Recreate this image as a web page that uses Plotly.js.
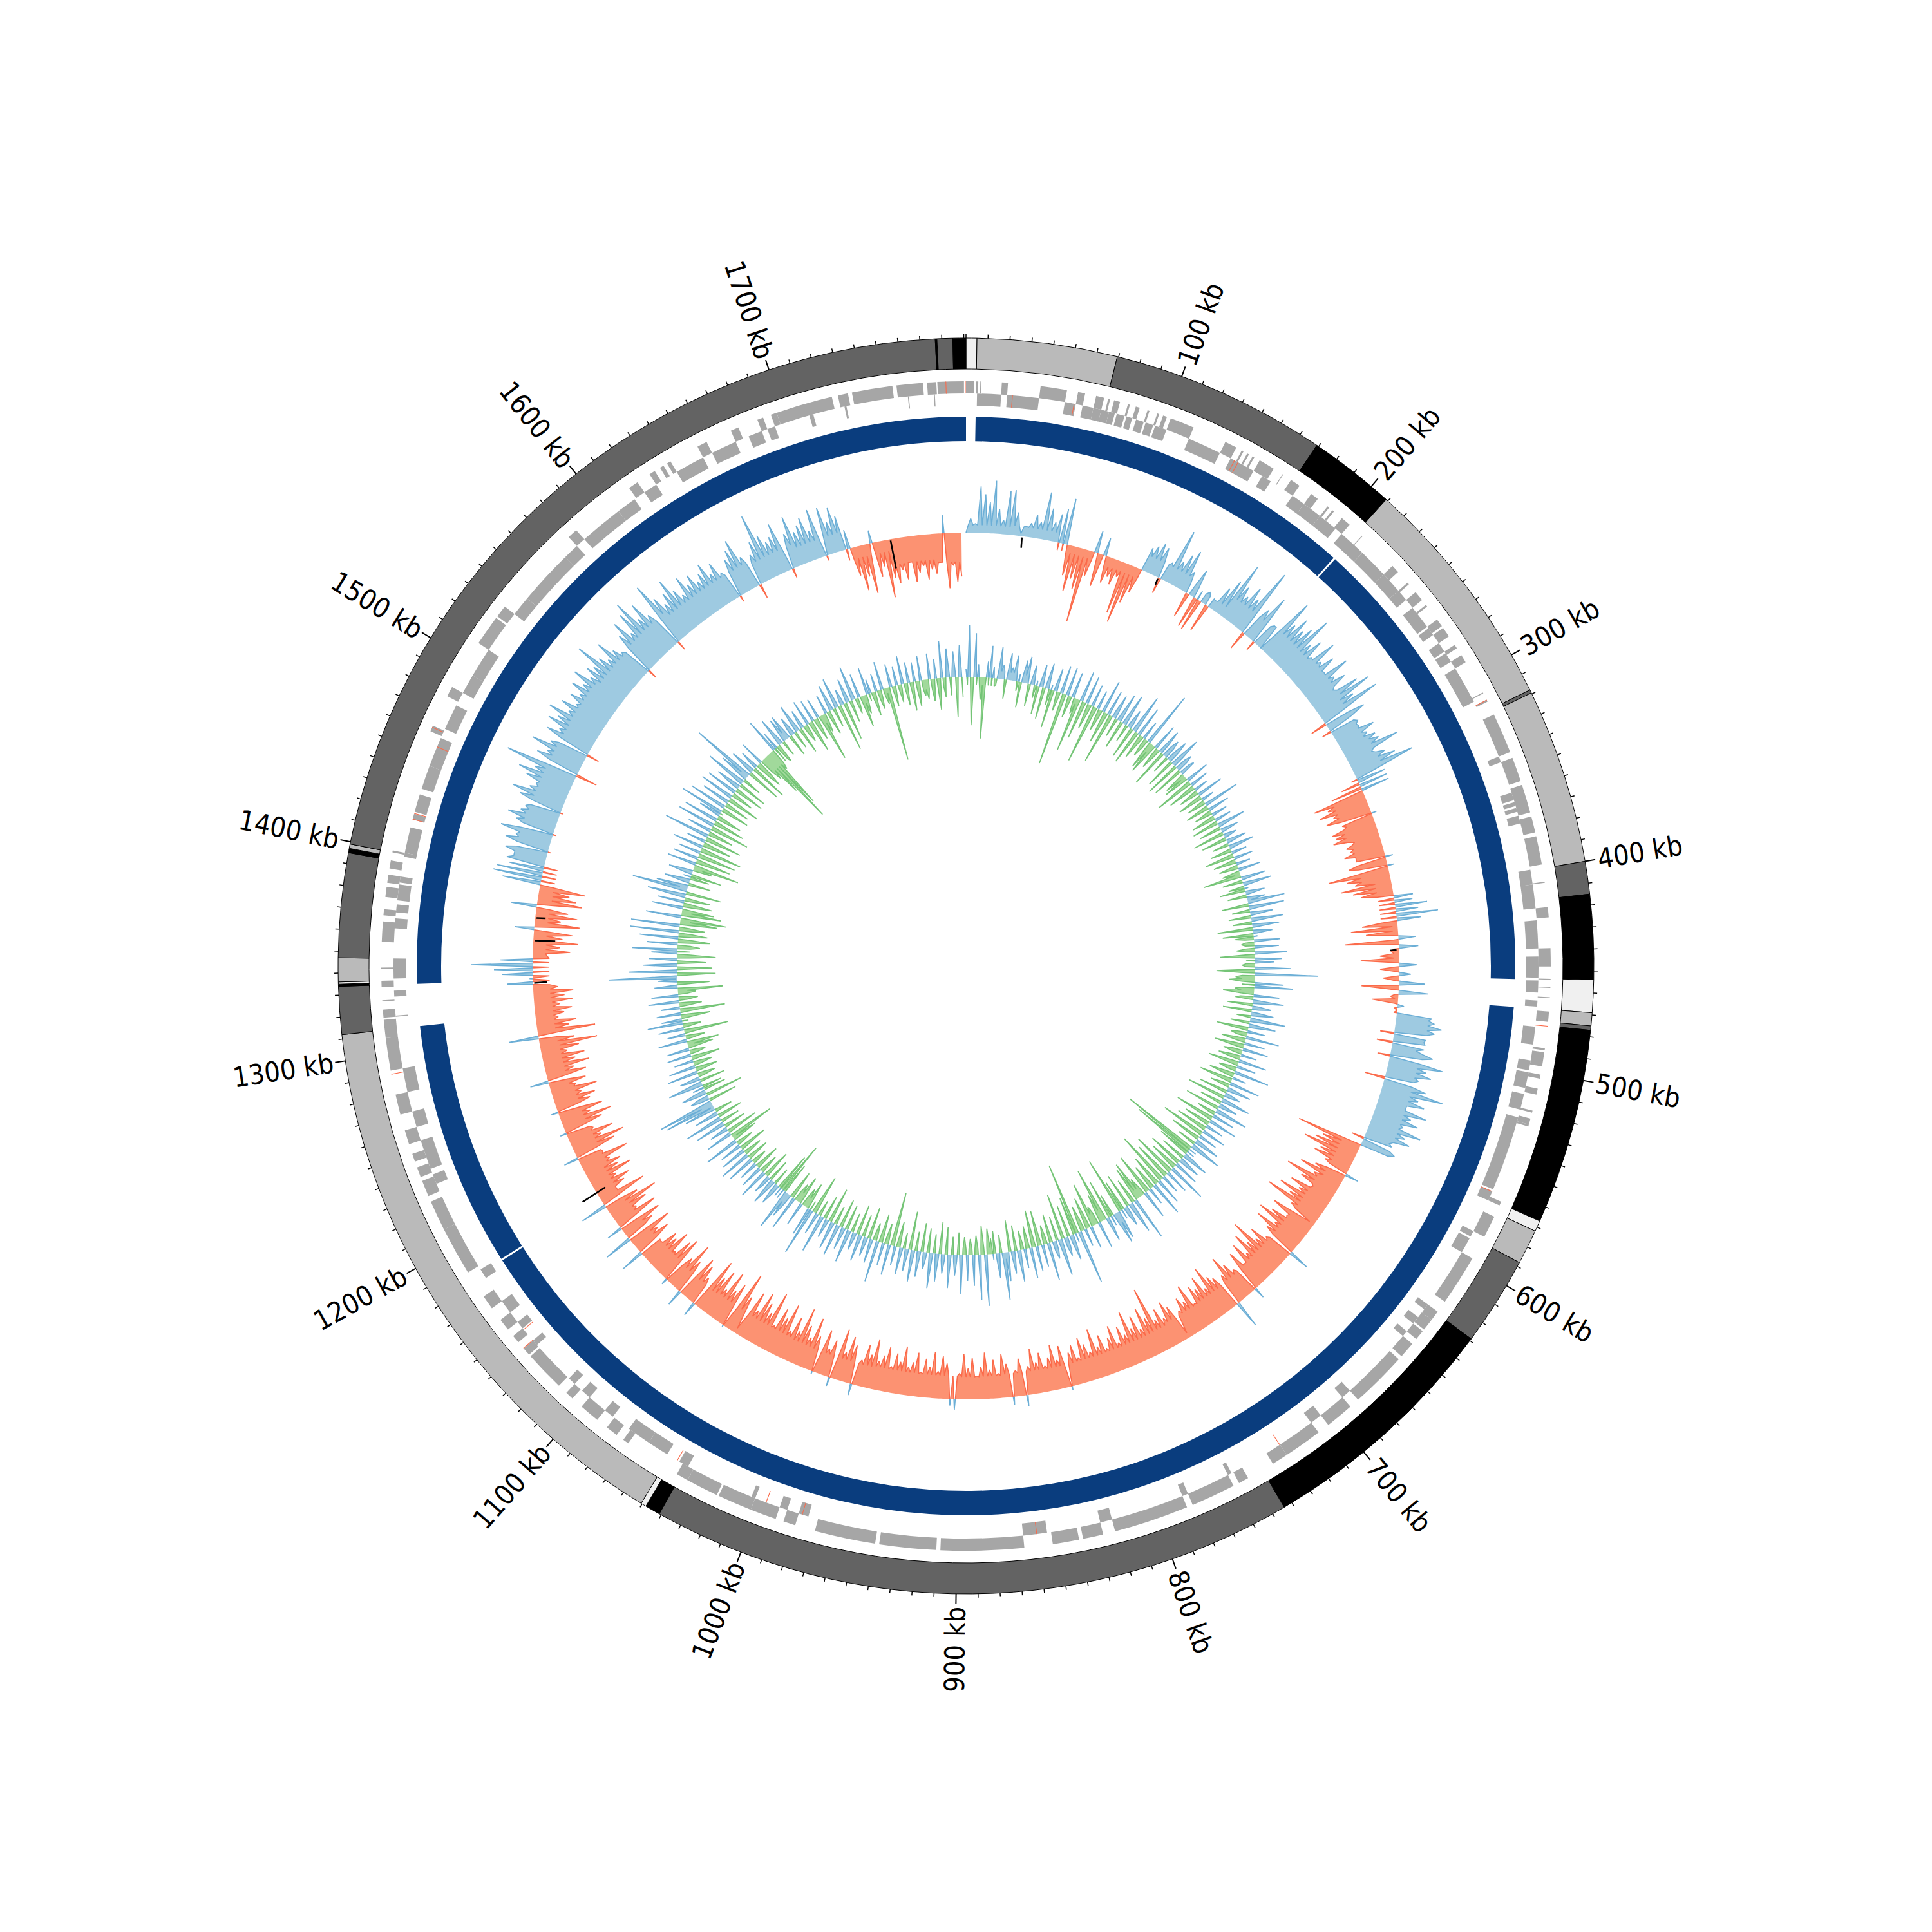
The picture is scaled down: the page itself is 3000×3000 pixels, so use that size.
<!DOCTYPE html>
<html>
<head>
<meta charset="utf-8">
<script src="https://cdn.plot.ly/plotly-3.0.1.min.js"></script>
<style>html,body{margin:0;padding:0;background:#fff}#plot{width:3000px;height:3000px}</style>
</head>
<body>
<div id="plot"></div>
<script>
// genome coordinates are in kb
const GENOME_KB = 1791;
const tickLabelsKb = [100,200,300,400,500,600,700,800,900,1000,1100,1200,1300,1400,1500,1600,1700];

// outer band ring: start kb, end kb, class
const bandStart = [0,5,69.4,169,209,318,319.5,400,415,454,469,475,477,567,572,588,629,744,1041,1048,1050.5,1312,1334,1335,1336,1347,1395,1397,1399,1777,1777.8,1785];
const bandEnd   = [5,69.4,169,209,318,319.5,400,415,454,469,475,477,567,572,588,629,744,1041,1048,1050.5,1312,1334,1335,1336,1347,1395,1397,1399,1777,1777.8,1785,1791];
const bandClass = ['p','l','d','k','l','d','l','d','k','p','l','d','k','p','l','d','k','d','k','p','l','d','k','p','l','d','k','l','d','k','d','k'];

// contig ring
const contigStart = [5,210,469,1183,1334];
const contigEnd   = [209,454.5,1182,1312,1791];

// gene blocks per strand, [start kb, end kb]
const genesOuter = [[0,4],[5,6],[7,7.4],[17.5,20.5],[36.5,49.5],[55,58.5],[64,68],[70,71],[73,76],[80,81],[84,86],[90,91],[95,96],[98,100],[102,114],[131,137],[140,141],[143,144],[146,147],[150,158],[163,163.4],[168,173],[180,184],[190,191],[193,194],[199,204],[212,212.4],[233,237],[244,245],[250,255],[258,259],[267,271],[272,277],[282,284],[288,292],[309,309.5],[313,314],[321,341],[344,356],[358,372],[374,382],[384,398],[406.5,407],[419,424],[439,448],[454,454.4],[458,458.4],[463,463.4],[470,475],[488,489],[490,497],[501,503],[508,511],[519,520],[523,526],[526,527],[566,568],[574,585],[597,622],[628,633],[633,639],[640,645],[648,656],[658,686],[691,705],[711,730],[730,738],[752,757],[760,782],[785,822],[828,838],[840,853],[867,908],[910,938],[940,970],[980,986],[990,1003],[1003,1020],[1021,1037],[1037,1043],[1071,1074],[1078,1084],[1090,1100],[1106,1110],[1115,1135],[1136,1140],[1144,1148],[1152,1158],[1165,1172],[1186,1210],[1210,1225],[1228,1236],[1238,1243],[1246,1250],[1255,1262],[1270,1280],[1292,1308],[1308,1317],[1318,1322],[1326,1326.5],[1333,1336],[1342,1342.5],[1355,1365],[1368,1371],[1377,1382],[1384,1388],[1391,1395],[1399,1400],[1480,1485],[1461,1464],[1510,1525],[1526,1532],[1578,1583],[1616,1621],[1628,1631],[1634,1636],[1638,1640],[1655,1660],[1673,1677],[1687,1690],[1694,1697],[1697,1725],[1728,1733],[1735,1755],[1757,1770],[1772,1776.5],[1777,1790]];
const genesInner = [[5.5,17.5],[20.5,36.5],[49.5,55],[58.5,64],[64,68],[68,72],[72,75],[76,80],[81,84],[86,90],[91,95],[96,102],[114,131],[137,150],[155,160],[173,180],[180,190],[190,200],[204,218],[218,233],[233,244],[244,250],[255,267],[268,272],[277,282],[283,288],[292,311],[341,344],[360,364],[365,367],[368,370],[372,376],[399.6,407],[407,419],[425,439],[443,453.6],[455,461],[465,468],[478,487],[495,500],[501,509],[512,520],[524,562],[563,568],[585,588],[589,597],[628,631],[636,640],[645,648],[686,691],[705,711],[758,760],[782,785],[822,828],[855,867],[975,980],[986,990],[1003,1005],[1040,1045],[1052,1063],[1063,1075],[1085,1090],[1100,1105],[1110,1114],[1137,1140],[1148,1152],[1158,1165],[1179,1184],[1232,1237],[1240,1255],[1262,1270],[1280,1292],[1318,1318.5],[1328,1331],[1337,1347],[1362,1367],[1370,1374],[1376,1384],[1385,1388],[1398,1400],[1400,1413],[1417,1420],[1421,1430],[1433,1445],[1445,1460],[1465,1478],[1485,1495],[1495,1510],[1532,1542],[1542,1570],[1570,1578],[1583,1605],[1605,1615],[1621,1628],[1640,1655],[1660,1673],[1680,1687],[1690,1694],[1712,1714],[1730,1731],[1762,1762.5],[1775,1775.5]];
// rRNA/tRNA marks, highlighted genes
const specialOuter = [1781,1790.5,313,477,1140,1463,1290];
const specialInner = [23,54,139,141,563,730,860,978,997,1046,1147,1417,1420,1455];

// skew peaks, one value every 3 kb starting from 0 kb (20 values per row = 60 kb)
const skewValues = [
0,22,14,72,60,48,82,38,22,68,70,36,4,16,22,36,26,74,50,30,
44,54,72,-48,-72,-50,-65,-115,-40,35,-52,28,-42,-30,-40,-25,-82,-95,-60,-40,
38,44,52,48,-25,30,88,40,55,66,34,-40,45,-50,-52,20,-45,14,42,60,
94,60,48,70,55,110,-30,52,80,-16,40,0,98,62,80,64,75,100,58,72,
46,84,52,70,46,84,54,68,40,80,96,62,99,-26,66,-15,45,42,64,48,
58,60,88,40,58,72,98,-10,-30,-50,-82,-62,-78,-58,-72,8,-44,-70,-66,-72,
-40,-55,-50,-62,-45,12,-60,10,-95,-68,-56,-80,-62,-50,30,28,50,35,65,38,
-55,-73,-50,27,-83,30,-12,-30,-60,27,-30,18,-25,40,-58,46,-12,-40,10,0,
55,60,72,62,-22,48,-25,38,66,-20,85,60,70,52,-32,68,97,60,72,45,
80,58,72,50,82,60,70,40,-20,55,-104,-60,-70,-85,-55,-62,-40,21,-50,-72,
-45,-88,-60,-35,-70,-52,-82,-60,-95,-48,-8,-72,-42,-66,-84,-50,-78,-55,33,-45,
-70,-55,-94,-62,-80,-50,-72,-40,-66,18,-45,-60,-78,-50,43,-55,-62,-83,-50,-74,
-58,-66,-40,-76,-52,-62,-44,-8,-58,-70,-46,-65,-50,-106,-60,-80,-48,-72,-55,-85,
-50,-66,-42,-72,-55,-40,-64,-48,-78,-44,-58,-70,-40,-62,-52,6,-66,-45,-70,-52,
-40,-62,-48,-70,-44,17,-58,-40,13,-52,-68,-38,-60,-45,-72,-50,-36,-64,-48,-70,
-40,17,10,-55,-66,-42,-72,-48,-60,-38,-68,-52,-44,-75,-50,-62,-40,-70,-55,-45,
-78,-52,-66,-40,18,-60,-72,-45,-80,14,-58,-42,-70,5,-55,-82,-48,-65,-90,-50,
-70,-45,-85,-60,-72,-40,-92,-55,-68,-82,-48,-75,-8,-60,-96,3,-70,-55,-82,-48,
-76,-60,-85,23,-45,-62,-70,26,-55,-80,-50,10,-75,-66,-40,-72,-55,-60,-35,38,
-60,-45,-72,45,-50,-68,25,-70,-40,-62,-84,-55,42,-75,-30,-48,-60,-42,-70,-52,
-60,-45,-78,-40,23,-66,-84,-50,-72,-42,10,-62,-80,-48,-70,11,-55,-65,-45,-72,
-40,-58,29,-62,-45,-70,-50,-66,-40,-60,-90,-55,46,-90,-50,-62,-35,-45,-58,-40,
-60,-48,-62,-38,40,5,48,60,95,50,-22,-58,-42,-70,-45,-60,30,-70,-40,-65,
-50,40,-70,-60,-48,-72,60,76,72,55,60,50,66,-5,70,55,82,-5,62,78,
60,55,-4,70,85,60,52,72,88,65,115,-34,72,58,88,60,-20,75,58,82,
70,90,60,78,55,72,60,80,65,87,62,75,68,104,70,58,85,62,50,-15,
70,88,60,92,106,68,90,62,-15,105,75,58,72,90,66,52,78,60,72,55,
64,76,54,68,46,-10,60,72,85,52,-23,48,66,107,70,55,60,78,-15,55,
80,52,60,70,45,77,-8,75,50,70,55,30,-45,-70,-50,-78,20,-55,-40,-90,
-60,-70,-50,-66,-40,-72,-58,-48,-70,-55,-62,-45,28,-86,-50,-76,-68
];
// level of the filled band between skew peaks, one value every 30 kb
const skewFloors = [12,15,-12,-15,25,15,35,40,45,40,45,-50,-45,-25,-8,-5,50,45,45,-30,-38,-40,-40,-38,-38,-35,-35,-35,-36,-35,-36,-36,-34,-34,-36,-36,-34,-36,-34,-30,-38,-36,-30,-28,-26,-20,-22,50,48,48,50,45,48,40,40,35,28,-18,-40,-45];

// content peaks, one value every 3 kb starting from 0 kb
const gcValues = [
12,80,-75,68,20,-35,-95,25,50,18,-10,50,22,-30,42,20,40,-15,-40,35,
42,-35,30,-20,-45,35,-50,40,-25,-60,36,-30,44,-114,45,-35,40,-25,-85,48,
-60,45,-40,35,-92,30,-35,52,-50,40,-80,38,-30,45,-45,50,-28,30,-50,62,
-55,48,-40,30,-30,88,-45,-50,42,-35,40,-60,30,-28,36,-48,50,-56,28,-50,
25,-35,-40,38,-62,30,-45,22,-32,42,-40,20,-30,57,-38,34,-28,25,-38,26,
-42,44,-35,28,-50,20,-40,32,-26,40,-34,24,-46,30,-36,22,-30,35,-28,-60,
38,-32,45,-25,-40,30,-30,28,58,-42,55,-28,35,-35,50,-30,42,-55,30,-48,
-30,40,-20,38,-28,50,-54,42,30,-20,55,-60,98,-30,-40,45,60,-30,-48,40,
-28,48,-40,30,-45,35,-22,55,-30,42,-50,28,-25,52,-38,32,-46,40,-30,25,
-35,44,-48,30,-28,55,-40,22,-52,48,-30,38,-45,25,-60,46,-35,30,-55,52,
-30,35,-62,45,-42,28,-50,38,-70,30,-48,40,-30,50,-122,-100,-52,42,-40,35,
-55,40,-45,62,-70,38,-60,30,-85,42,-50,55,-40,28,-66,45,-30,-62,-55,69,
-40,50,-55,32,-48,-90,45,50,-35,-62,38,-86,-45,42,-30,-70,36,-50,28,-40,
85,-113,-60,40,-50,30,-72,58,-38,28,-45,60,-30,35,-55,40,-58,48,-35,30,
-30,50,-40,35,-50,45,74,-28,38,-35,-25,-40,80,-45,70,-30,48,-25,40,-28,
60,-35,32,-28,52,-42,30,-50,44,-30,55,-38,26,-45,40,-30,50,-60,35,-25,
42,-40,30,-84,48,-32,35,-45,65,-28,38,-50,30,-35,42,-48,28,-30,52,-40,
35,-45,50,-30,44,-55,30,-38,60,-25,35,-62,76,45,-42,-30,38,-45,-30,55,
-45,40,65,-50,-83,-60,35,-28,42,-35,30,-45,48,-30,36,-40,30,-25,44,-35,
50,-30,40,-45,35,-28,55,-40,-72,42,-50,30,-35,48,-30,60,-40,38,-28,50,
80,88,-45,30,-59,40,-35,-30,55,-40,32,-28,48,-35,42,-30,30,-45,38,-25,
35,-40,-50,45,-30,28,-70,40,-28,55,32,-45,38,-70,30,-35,48,-30,42,-28,
-70,36,-50,30,106,-60,75,-55,52,-45,44,-60,40,70,-35,48,-50,60,-45,76,
-40,76,-58,-72,55,-62,-50,48,-45,42,-40,60,-55,87,50,-35,40,-30,-48,38,
-30,-72,45,-55,40,-60,35,-66,48,-45,30,-58,72,-40,38,-62,60,-50,55,-40,
35,70,-45,60,-40,45,-52,55,-35,50,-48,40,-47,65,-30,48,101,-55,40,-60,
30,-45,38,-40,-70,-125,-100,-35,55,28,-30,45,-25,38,40,-35,30,-28,45,-42,
30,-28,40,-50,35,-35,32,-75,-30,30,-38,42,-30,48,-74,25,-60,38,-35,54,
-25,38,-50,-30,42,22,-38,28,-30,44,-25,-116,36,-32,30,-28,44,-35,32,-45,
30,-40,38,-25,-30,40,-35,30,-50,57,-30,45,-28,40,-62,50,-32
];
// level of the filled band between content peaks, one value every 30 kb
const gcFloors = [-12,12,8,-8,-14,10,-14,18,-8,-8,6,-8,6,6,-14,-20,10,-15,-14,8,-8,12,-12,-14,16,-18,15,-12,10,-10,10,8,-10,8,5,-15,15,-6,-6,4,18,-12,-10,-14,2,-20,-15,12,-14,-8,-5,12,-25,12,-14,8,-12,-8,-15,10];

// short black marks on the skew track
const markKb = [37,131,437,1186,1332,1360,1375,1741];
const markLo = [-18,-12,-14,-16,-22,-34,-16,-46];
const markHi = [-2,-2,-4,26,-2,-2,-2,-2];

const STEP_KB = 3, DEG = 360/GENOME_KB;
const SKEW_BASE = 673, GC_BASE = 449;
const theta = kb => kb*DEG;

function bar(starts, ends, base, thick, color, extra){
  return Object.assign({type:'barpolar', theta:starts.map((s,i)=>theta((s+ends[i])/2)),
    width:starts.map((s,i)=>theta(ends[i]-s)), r:starts.map(()=>thick), base:starts.map(()=>base),
    marker:{color:color, line:{width:0}}, hoverinfo:'skip', showlegend:false}, extra||{});
}
// peak, band level, peak, band level ... with each position in kb
function curve(values, floors){
  const pts=[];
  values.forEach((v,i)=>{
    const kb=i*STEP_KB;
    pts.push([kb,v]);
    if(i<values.length-1) pts.push([kb+STEP_KB/2, floors[Math.floor(kb/30)]]);
  });
  return pts;
}
function signedRuns(pts, sign){
  // split a signed curve into runs of one sign, closing each at a zero crossing
  const runs=[]; let run=null;
  pts.forEach((pt,i)=>{
    const v=pt[1]*sign, kb=pt[0];
    if(v>0){
      if(!run){
        run=[];
        if(i>0){const p=pts[i-1][1]*sign, k0=pts[i-1][0]; run.push([k0+(kb-k0)*(-p)/(v-p),0]);}
      }
      run.push([kb,v]);
    } else if(run){
      const p=pts[i-1][1]*sign, k0=pts[i-1][0];
      run.push([k0+(kb-k0)*p/(p-v),0]); runs.push(run); run=null;
    }
  });
  if(run) runs.push(run);
  return runs;
}
function areaTraces(pts, base, up, down){
  const out=[];
  [[1,up],[-1,down]].forEach(([sign,c])=>{
    const runs=signedRuns(pts,sign), ft=[],fr=[];
    runs.forEach(run=>{
      run.forEach(p=>{ft.push(theta(p[0]));fr.push(base+sign*p[1]);});
      for(let j=run.length-1;j>=0;j--){ft.push(theta(run[j][0]));fr.push(base);}
      ft.push(null);fr.push(null);
    });
    out.push({type:'scatterpolar',mode:'lines',theta:ft,r:fr,fill:'toself',fillcolor:c.fill,
      line:{width:0,color:c.fill},hoverinfo:'skip',showlegend:false});
  });
  [[-1,down],[1,up]].forEach(([sign,c])=>{
    const runs=signedRuns(pts,sign), t=[],r=[];
    runs.forEach(run=>{run.forEach(p=>{t.push(theta(p[0]));r.push(base+sign*p[1]);});t.push(null);r.push(null);});
    out.push({type:'scatterpolar',mode:'lines',theta:t,r:r,line:{width:1.6,color:c.line},
      hoverinfo:'skip',showlegend:false,connectgaps:false});
  });
  return out;
}
const bandColor={d:'#636363',l:'#bababa',k:'#000000',p:'#f0f0f0'};
const traces=[];
traces.push(bar(bandStart,bandEnd,927,48,bandClass.map(c=>bandColor[c]),{marker:{color:bandClass.map(c=>bandColor[c]),line:{color:'#000',width:1}}}));
traces.push(bar(genesOuter.map(g=>g[0]),genesOuter.map(g=>g[1]),889,19,'#a6a6a6'));
traces.push(bar(genesInner.map(g=>g[0]),genesInner.map(g=>g[1]),870,19,'#a6a6a6'));
traces.push(bar(specialOuter,specialOuter.map(k=>k+0.35),889,19,'#fb6a4a'));
traces.push(bar(specialInner,specialInner.map(k=>k+0.35),870,19,'#fb6a4a'));
traces.push(bar(contigStart,contigEnd,815,38,'#0a3d7e'));
areaTraces(curve(skewValues,skewFloors),SKEW_BASE,{fill:'#9ecae1',line:'#6baed6'},{fill:'#fc9272',line:'#fb6a4a'}).forEach(t=>traces.push(t));
areaTraces(curve(gcValues,gcFloors),GC_BASE,{fill:'#9ecae1',line:'#6baed6'},{fill:'#a1d99b',line:'#74c476'}).forEach(t=>traces.push(t));
// black marks
const mt=[],mr=[];
markKb.forEach((k,i)=>{mt.push(theta(k),theta(k+0.4),null);mr.push(SKEW_BASE+markHi[i],SKEW_BASE+markLo[i],null);});
traces.push({type:'scatterpolar',mode:'lines',theta:mt,r:mr,line:{color:'#000',width:2.5},hoverinfo:'skip',showlegend:false});
// ticks
const minT=[],minR=[],majT=[],majR=[];
for(let k=0;k<GENOME_KB;k+=10){
  if(k%100===0 && k>0){majT.push(theta(k),theta(k),null);majR.push(975,991,null);}
  else {minT.push(theta(k),theta(k),null);minR.push(975,981,null);}
}
traces.push({type:'scatterpolar',mode:'lines',theta:minT,r:minR,line:{color:'#000',width:1.5},hoverinfo:'skip',showlegend:false});
traces.push({type:'scatterpolar',mode:'lines',theta:majT,r:majR,line:{color:'#000',width:2},hoverinfo:'skip',showlegend:false});

const annotations=tickLabelsKb.map(k=>{
  const label=k+' kb', a=theta(k), rad=a*Math.PI/180;
  const rc = 998 + label.length*10.6;
  return {text:label, xref:'paper', yref:'paper', x:0.5+rc*Math.sin(rad)/3000, y:0.5+rc*Math.cos(rad)/3000,
    xanchor:'center', yanchor:'middle', showarrow:false,
    textangle:(a<180?a-90:a-270), font:{family:'"DejaVu Sans Condensed","DejaVu Sans",sans-serif',size:43,color:'#000'}};
});

Plotly.newPlot('plot',traces,{
  width:3000,height:3000,margin:{l:0,r:0,t:0,b:0},paper_bgcolor:'#fff',plot_bgcolor:'#fff',showlegend:false,
  polar:{domain:{x:[0,1],y:[0,1]},bgcolor:'#fff',barmode:'overlay',bargap:0,
    radialaxis:{visible:false,range:[0,1500]},
    angularaxis:{visible:false,rotation:90,direction:'clockwise',thetaunit:'degrees'}},
  annotations:annotations
},{displayModeBar:false,staticPlot:true});
</script>
</body>
</html>
